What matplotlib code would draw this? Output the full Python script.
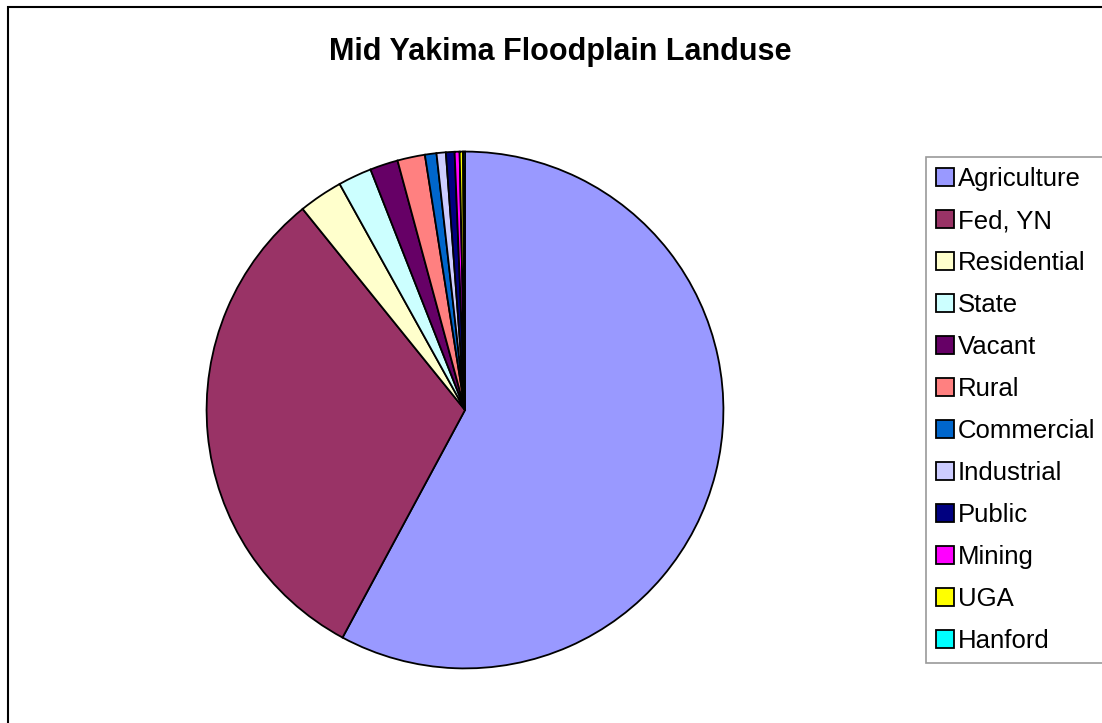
import matplotlib
matplotlib.use("Agg")
import matplotlib.pyplot as plt
from matplotlib.patches import Rectangle

labels = ["Agriculture", "Fed, YN", "Residential", "State", "Vacant", "Rural",
          "Commercial", "Industrial", "Public", "Mining", "UGA", "Hanford"]
values = [57.8, 31.3, 2.75, 2.1, 1.75, 1.72, 0.72, 0.58, 0.54, 0.31, 0.21, 0.12]
colors = ["#9999FF", "#993366", "#FFFFCC", "#CCFFFF", "#660066", "#FF8080",
          "#0066CC", "#CCCCFF", "#000080", "#FF00FF", "#FFFF00", "#00FFFF"]

plt.rcParams['font.family'] = ['Liberation Sans', 'DejaVu Sans']

W, H = 1102, 723
fig = plt.figure(figsize=(W / 100, H / 100), dpi=100)

# outer chart frame
fig.patches.append(Rectangle((8 / W, -0.1), 1.2, 1.1 - 7 / H, transform=fig.transFigure,
                             fill=False, edgecolor="black", linewidth=1.5))

cx, cy, r = 465, 410, 261
ax = fig.add_axes([(cx - r) / W, (H - cy - r) / H, 2 * r / W, 2 * r / H])
wedges, _ = ax.pie(values, colors=colors, startangle=90, counterclock=False, radius=1,
                   wedgeprops=dict(edgecolor="black", linewidth=1.3))
ax.set_xlim(-1.01, 1.01)
ax.set_ylim(-1.01, 1.01)
ax.set_aspect("equal")
ax.axis("off")

fig.text(560 / W, 1 - 52 / H, "Mid Yakima Floodplain Landuse", ha="center", va="center",
         fontsize=22, fontweight="bold")

leg = fig.legend(wedges, labels, loc="upper left", bbox_to_anchor=(926 / W, 1 - 157 / H),
                 fontsize=18.5, frameon=True, fancybox=False, edgecolor="#808080",
                 handlelength=0.7, handleheight=0.7, handletextpad=0.15,
                 labelspacing=0.7, borderpad=0.4, borderaxespad=0)
leg.get_frame().set_linewidth(1.2)
for h in leg.legend_handles:
    h.set_linewidth(1.3)

fig.savefig("out.png", dpi=100)
